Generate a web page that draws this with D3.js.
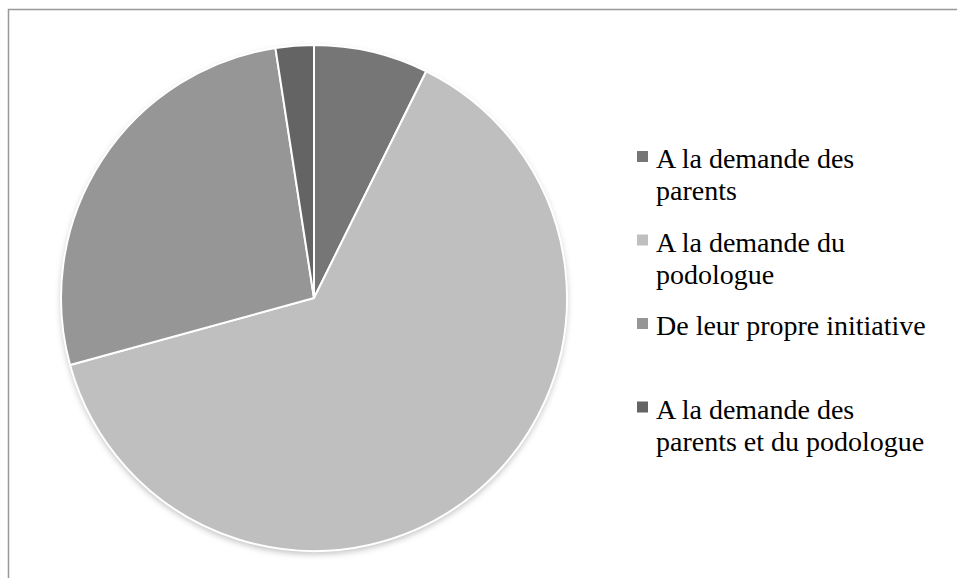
<!DOCTYPE html>
<html>
<head>
<meta charset="utf-8">
<script src="https://cdn.jsdelivr.net/npm/d3@7/dist/d3.min.js"></script>
<style>
  body { margin: 0; background: #fff; }
  svg { display: block; }
</style>
</head>
<body>
<svg id="chart" width="957" height="578"></svg>
<script>
var labels = [
  ["A la demande des", "parents"],
  ["A la demande du", "podologue"],
  ["De leur propre initiative"],
  ["A la demande des", "parents et du podologue"]
];
var values = [3, 26, 11, 1];
var colors = ["#767676", "#bfbfbf", "#969696", "#646464"];

var svg = d3.select("#chart");
var pie_cx = 314, pie_cy = 298, pie_radius = 253;

// frame (only top and left edges show in the picture)
svg.append("rect").attr("x", 8.5).attr("y", 9.5).attr("width", 1000).attr("height", 1000)
  .attr("fill", "none").attr("stroke", "#999").attr("stroke-width", 1.5);

var defs = svg.append("defs");
var shadow = defs.append("filter").attr("id", "shadow").attr("x", "-10%").attr("y", "-10%").attr("width", "120%").attr("height", "125%");
shadow.append("feDropShadow").attr("dx", 0).attr("dy", 3).attr("stdDeviation", 3)
  .attr("flood-color", "#000").attr("flood-opacity", 0.25);

var pie = d3.pie().value(function (d) { return d; }).sort(null);
var arc = d3.arc().innerRadius(0).outerRadius(pie_radius);

var g = svg.append("g").attr("transform", "translate(" + pie_cx + "," + pie_cy + ")");
g.append("circle").attr("r", pie_radius).attr("fill", "#fff").attr("filter", "url(#shadow)");
g.selectAll("path").data(pie(values)).enter().append("path")
  .attr("d", arc)
  .attr("fill", function (d, i) { return colors[i]; })
  .attr("stroke", "#fff").attr("stroke-width", 2).attr("stroke-linejoin", "round");

// legend
var legend_x = 637, legend_y0 = 168, legend_step = 83.5, line_h = 32;
var leg = svg.append("g").attr("font-family", "'Liberation Serif', serif").attr("font-size", "28px").attr("fill", "#000");
labels.forEach(function (lines, i) {
  var by = legend_y0 + i * legend_step;
  leg.append("rect").attr("x", legend_x).attr("y", by - 17).attr("width", 11).attr("height", 11)
    .attr("fill", colors[i]);
  var t = leg.append("text").attr("x", legend_x + 19).attr("y", by);
  lines.forEach(function (s, j) {
    t.append("tspan").attr("x", legend_x + 19).attr("y", by + j * line_h).text(s);
  });
});
</script>
</body>
</html>
